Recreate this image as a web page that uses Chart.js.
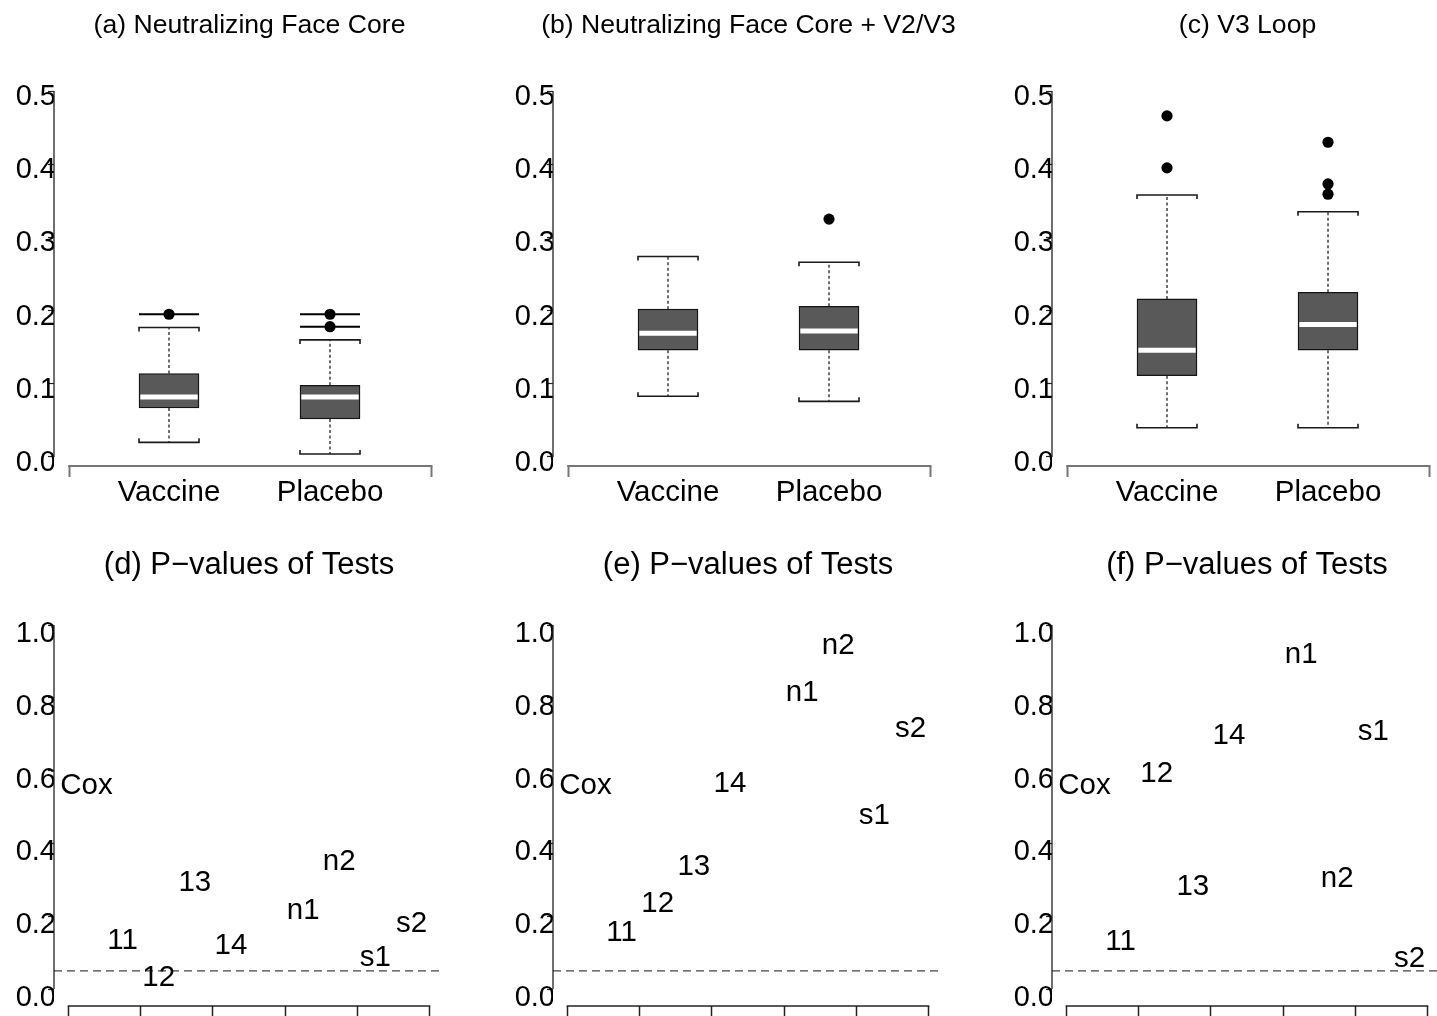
<!DOCTYPE html>
<html lang="en">
<head>
<meta charset="utf-8">
<title>Distances by group and p-values of tests</title>
<script src="https://cdn.jsdelivr.net/npm/chart.js@4.4.1/dist/chart.umd.min.js"></script>
<style>
  html, body { margin: 0; padding: 0; background: #fff; }
  body { width: 1437px; height: 1016px; overflow: hidden; position: relative; }
  .panel { position: absolute; width: 499px; height: 508px; }
  .panel canvas { display: block; }
</style>
</head>
<body>
<div class="panel" style="left:0;top:0"><canvas id="boxA" width="499" height="508"></canvas></div>
<div class="panel" style="left:499px;top:0"><canvas id="boxB" width="499" height="508"></canvas></div>
<div class="panel" style="left:998px;top:0"><canvas id="boxC" width="499" height="508"></canvas></div>
<div class="panel" style="left:0;top:508px"><canvas id="pvalD" width="499" height="508"></canvas></div>
<div class="panel" style="left:499px;top:508px"><canvas id="pvalE" width="499" height="508"></canvas></div>
<div class="panel" style="left:998px;top:508px"><canvas id="pvalF" width="499" height="508"></canvas></div>
<script>
const FONT_FAMILY = '"Liberation Sans", Arial, Helvetica, sans-serif';

// ---- Top row: distances by treatment group ----
const groups = ['Vaccine', 'Placebo'];
const groupPositions = [1, 2];
const boxTitles = ['(a) Neutralizing Face Core', '(b) Neutralizing Face Core + V2/V3', '(c) V3 Loop'];
const boxTicks = [0.0, 0.1, 0.2, 0.3, 0.4, 0.5];

// five-number summaries: [lower whisker, Q1, median, Q3, upper whisker]
const coreVaccine     = [0.020, 0.067, 0.082, 0.114, 0.177];
const corePlacebo     = [0.004, 0.052, 0.082, 0.098, 0.160];
const coreV2V3Vaccine = [0.083, 0.146, 0.169, 0.202, 0.274];
const coreV2V3Placebo = [0.076, 0.146, 0.172, 0.206, 0.266];
const v3LoopVaccine   = [0.040, 0.111, 0.146, 0.216, 0.358];
const v3LoopPlacebo   = [0.040, 0.146, 0.181, 0.225, 0.335];

// points beyond the whiskers
const coreVaccineOutliers     = [0.195];
const corePlaceboOutliers     = [0.195, 0.178];
const coreV2V3VaccineOutliers = [];
const coreV2V3PlaceboOutliers = [0.325];
const v3LoopVaccineOutliers   = [0.466, 0.395];
const v3LoopPlaceboOutliers   = [0.430, 0.373, 0.359];

// ---- Bottom row: p-values of the tests ----
const tests = ['Cox', '11', '12', '13', '14', 'n1', 'n2', 's1', 's2'];
const testPositions = [1, 2, 3, 4, 5, 7, 8, 9, 10];
const pvalTitles = ['(d) P\u2212values of Tests', '(e) P\u2212values of Tests', '(f) P\u2212values of Tests'];
const pvalCore     = [0.565, 0.139, 0.038, 0.299, 0.124, 0.222, 0.356, 0.093, 0.185];
const pvalCoreV2V3 = [0.565, 0.162, 0.240, 0.343, 0.570, 0.820, 0.948, 0.483, 0.721];
const pvalV3Loop   = [0.565, 0.135, 0.597, 0.286, 0.702, 0.925, 0.310, 0.712, 0.089];
const pvalTicks = [0.0, 0.2, 0.4, 0.6, 0.8, 1.0];
const pvalAxisTicks = [0.5, 2.5, 4.5, 6.5, 8.5, 10.5];
const significanceLevel = 0.05;

// ---- scale ranges ----
const BOX_X = { min: 0.2857, max: 2.708, axisFrom: 0.38, axisTo: 2.63, center: 1.5 };
const BOX_Y = { min: -0.0123, max: 0.5205 };
const PVAL_X = { min: 0.1, max: 10.9, center: 5.5 };
const PVAL_Y = { min: -0.0467, max: 1.0687 };

Chart.defaults.font.family = FONT_FAMILY;
Chart.defaults.color = '#000';
Chart.defaults.animation = false;
Chart.defaults.events = [];
Chart.defaults.plugins.legend.display = false;
Chart.defaults.plugins.tooltip.enabled = false;

function yAxis(range, tickValues, labelShift) {
  return {
    type: 'linear',
    min: range.min,
    max: range.max,
    afterBuildTicks: s => { s.ticks = tickValues.map(v => ({ value: v })); },
    afterFit: s => { s.width = 54; },
    border: { display: false },
    grid: { drawOnChartArea: false, drawTicks: true, tickLength: 6, tickWidth: 1.2, tickColor: '#222' },
    ticks: {
      font: { size: 29 }, color: '#000', padding: -8, labelOffset: labelShift,
      autoSkip: false, callback: v => Number(v).toFixed(1)
    }
  };
}

// axis lines spanning only the tick range, as in base graphics
function axisLines(xFrom, xTo, xColor, xWidth) {
  return {
    id: 'axisLines',
    afterDraw(chart) {
      const { ctx, chartArea, scales: { x, y } } = chart;
      const yt = y.ticks;
      ctx.save();
      ctx.strokeStyle = '#222';
      ctx.lineWidth = 1.3;
      ctx.beginPath();
      ctx.moveTo(chartArea.left, y.getPixelForValue(yt[0].value));
      ctx.lineTo(chartArea.left, y.getPixelForValue(yt[yt.length - 1].value));
      ctx.stroke();
      ctx.strokeStyle = xColor;
      ctx.lineWidth = xWidth;
      ctx.lineCap = 'square';
      ctx.beginPath();
      ctx.moveTo(x.getPixelForValue(xFrom), chartArea.bottom);
      ctx.lineTo(x.getPixelForValue(xTo), chartArea.bottom);
      ctx.stroke();
      ctx.restore();
    }
  };
}

function panelTitle(text, size, y, centerValue) {
  return {
    id: 'panelTitle',
    afterDraw(chart) {
      const ctx = chart.ctx;
      const x = chart.scales.x.getPixelForValue(centerValue);
      ctx.save();
      ctx.font = size + 'px ' + FONT_FAMILY;
      ctx.fillStyle = '#000';
      ctx.textAlign = 'center';
      ctx.textBaseline = 'middle';
      ctx.fillText(text, x, y);
      ctx.restore();
    }
  };
}

// whiskers, staples and medians for each group
function boxParts(stats, outliers, ruleOutliers) {
  const half = 30;
  return {
    id: 'boxParts',
    beforeDatasetsDraw(chart) {
      const { ctx, scales: { x, y } } = chart;
      stats.forEach((s, i) => {
        const cx = x.getPixelForValue(groupPositions[i]);
        const lo = y.getPixelForValue(s[0]);
        const q1 = y.getPixelForValue(s[1]);
        const q3 = y.getPixelForValue(s[3]);
        const hi = y.getPixelForValue(s[4]);
        ctx.save();
        ctx.strokeStyle = '#222';
        ctx.lineWidth = 1.3;
        ctx.setLineDash([3, 2.5]);
        ctx.beginPath();
        ctx.moveTo(cx, q3); ctx.lineTo(cx, hi);
        ctx.moveTo(cx, q1); ctx.lineTo(cx, lo);
        ctx.stroke();
        ctx.setLineDash([]);
        ctx.strokeStyle = '#1a1a1a';
        ctx.lineWidth = 1.6;
        ctx.beginPath();
        ctx.moveTo(cx - half, hi + 4); ctx.lineTo(cx - half, hi);
        ctx.lineTo(cx + half, hi); ctx.lineTo(cx + half, hi + 4);
        ctx.moveTo(cx - half, lo - 4); ctx.lineTo(cx - half, lo);
        ctx.lineTo(cx + half, lo); ctx.lineTo(cx + half, lo - 4);
        ctx.stroke();
        if (ruleOutliers) {
          ctx.strokeStyle = '#000';
          ctx.lineWidth = 2;
          ctx.beginPath();
          outliers[i].forEach(v => {
            const py = y.getPixelForValue(v);
            ctx.moveTo(cx - half, py); ctx.lineTo(cx + half, py);
          });
          ctx.stroke();
        }
        ctx.restore();
      });
    },
    afterDatasetsDraw(chart) {
      const { ctx, scales: { x, y } } = chart;
      stats.forEach((s, i) => {
        const cx = x.getPixelForValue(groupPositions[i]);
        const md = y.getPixelForValue(s[2]);
        ctx.save();
        ctx.strokeStyle = '#fff';
        ctx.lineWidth = 5;
        ctx.beginPath();
        ctx.moveTo(cx - half + 1.3, md); ctx.lineTo(cx + half - 1.3, md);
        ctx.stroke();
        ctx.restore();
      });
    }
  };
}

function boxPanel(id, title, stats, outliers, ruleOutliers) {
  const axisEnds = [BOX_X.axisFrom, BOX_X.axisTo];
  new Chart(document.getElementById(id), {
    type: 'bar',
    data: {
      datasets: [
        {
          type: 'bar',
          data: stats.map((s, i) => ({ x: groupPositions[i], y: [s[1], s[3]] })),
          backgroundColor: '#595959',
          borderColor: '#141414',
          borderWidth: 1.4,
          borderSkipped: false,
          barThickness: 60
        },
        {
          type: 'scatter',
          data: outliers.flatMap((list, i) => list.map(v => ({ x: groupPositions[i], y: v }))),
          pointRadius: 5.6,
          pointBackgroundColor: '#000',
          pointBorderWidth: 0,
          order: -1
        }
      ]
    },
    options: {
      responsive: false,
      layout: { padding: { top: 76, right: 55, left: 0, bottom: 0 } },
      scales: {
        x: {
          type: 'linear',
          min: BOX_X.min,
          max: BOX_X.max,
          offset: false,
          afterBuildTicks: s => {
            s.ticks = [BOX_X.axisFrom, ...groupPositions, BOX_X.axisTo].map(v => ({ value: v }));
          },
          afterFit: s => { s.height = 42; },
          border: { display: false },
          grid: {
            offset: false,
            drawOnChartArea: false,
            drawTicks: true,
            tickLength: 11,
            tickWidth: 2,
            tickColor: c => (c.tick && axisEnds.includes(c.tick.value)) ? '#777' : 'rgba(0,0,0,0)'
          },
          ticks: {
            font: { size: 29.5 }, color: '#000', padding: -2,
            autoSkip: false, maxRotation: 0, minRotation: 0,
            callback: v => {
              const k = groupPositions.indexOf(v);
              return k >= 0 ? groups[k] : '';
            }
          }
        },
        y: yAxis(BOX_Y, boxTicks, 6)
      }
    },
    plugins: [
      boxParts(stats, outliers, ruleOutliers),
      axisLines(BOX_X.axisFrom, BOX_X.axisTo, '#777', 2),
      panelTitle(title, 26.6, 25.5, BOX_X.center)
    ]
  });
}

// test names written at their p-values
function testLabels(names) {
  const size = 29.5;
  return {
    id: 'testLabels',
    afterDatasetsDraw(chart) {
      const ctx = chart.ctx;
      const meta = chart.getDatasetMeta(1);
      ctx.save();
      ctx.font = size + 'px ' + FONT_FAMILY;
      ctx.fillStyle = '#000';
      ctx.textAlign = 'center';
      ctx.textBaseline = 'alphabetic';
      meta.data.forEach((pt, i) => ctx.fillText(names[i], pt.x, pt.y + 0.358 * size));
      ctx.restore();
    }
  };
}

function pvalPanel(id, title, values) {
  new Chart(document.getElementById(id), {
    type: 'scatter',
    data: {
      datasets: [
        {
          type: 'line',
          data: [{ x: PVAL_X.min, y: significanceLevel }, { x: PVAL_X.max, y: significanceLevel }],
          borderColor: '#444',
          borderWidth: 1.2,
          borderDash: [8, 5],
          pointRadius: 0,
          fill: false
        },
        {
          type: 'scatter',
          data: testPositions.map((p, i) => ({ x: p, y: values[i] })),
          pointRadius: 0
        }
      ]
    },
    options: {
      responsive: false,
      layout: { padding: { top: 92, right: 55, left: 0, bottom: 0 } },
      scales: {
        x: {
          type: 'linear',
          min: PVAL_X.min,
          max: PVAL_X.max,
          afterBuildTicks: s => { s.ticks = pvalAxisTicks.map(v => ({ value: v })); },
          afterFit: s => { s.height = 10; },
          border: { display: false },
          grid: { drawOnChartArea: false, drawTicks: true, tickLength: 10, tickWidth: 1.5, tickColor: '#222' },
          ticks: { autoSkip: false, maxRotation: 0, minRotation: 0, padding: 0, callback: () => '' }
        },
        y: yAxis(PVAL_Y, pvalTicks, 9)
      }
    },
    plugins: [
      testLabels(tests),
      axisLines(pvalAxisTicks[0], pvalAxisTicks[pvalAxisTicks.length - 1], '#222', 1.5),
      panelTitle(title, 31, 57, PVAL_X.center)
    ]
  });
}

boxPanel('boxA', boxTitles[0], [coreVaccine, corePlacebo], [coreVaccineOutliers, corePlaceboOutliers], true);
boxPanel('boxB', boxTitles[1], [coreV2V3Vaccine, coreV2V3Placebo], [coreV2V3VaccineOutliers, coreV2V3PlaceboOutliers], false);
boxPanel('boxC', boxTitles[2], [v3LoopVaccine, v3LoopPlacebo], [v3LoopVaccineOutliers, v3LoopPlaceboOutliers], false);

pvalPanel('pvalD', pvalTitles[0], pvalCore);
pvalPanel('pvalE', pvalTitles[1], pvalCoreV2V3);
pvalPanel('pvalF', pvalTitles[2], pvalV3Loop);
</script>
</body>
</html>
